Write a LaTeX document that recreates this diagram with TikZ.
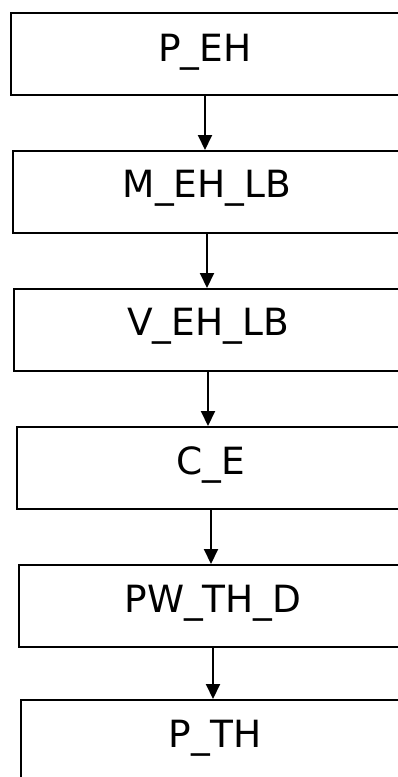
\documentclass[tikz,border=0pt]{standalone}
\usepackage{fontspec}
\setmainfont{DejaVu Sans}
\usetikzlibrary{arrows.meta}
\begin{document}
\begin{tikzpicture}[x=1pt,y=-1pt,
  box/.style={draw=black,line width=2.2pt,rectangle,minimum width=388pt,minimum height=82pt,inner sep=0pt,anchor=north},
  lbl/.style={anchor=base,font=\fontsize{37.5}{40}\selectfont,inner sep=0pt},
  conn/.style={line width=2pt,-{Triangle[length=15pt,width=14pt]}}]
\useasboundingbox (0,0) rectangle (398,777);
\node[box] (b1) at (205,12) {};
\node[box] (b2) at (207,150) {};
\node[box] (b3) at (208,288) {};
\node[box] (b4) at (211,426) {};
\node[box] (b5) at (213,564) {};
\node[box] (b6) at (215,699) {};
\node[lbl] (t1) at ([yshift=-49pt]b1.north) {P\_EH};
\node[lbl] (t2) at ([yshift=-47pt]b2.north) {M\_EH\_LB};
\node[lbl] (t3) at ([yshift=-47pt]b3.north) {V\_EH\_LB};
\node[lbl] (t4) at ([yshift=-48pt]b4.north) {C\_E};
\node[lbl] (t5) at ([yshift=-48pt]b5.north) {PW\_TH\_D};
\node[lbl] (t6) at ([yshift=-48pt]b6.north) {P\_TH};
\draw[conn] (b1.south) -- (b1.south |- b2.north);
\draw[conn] (b2.south) -- (b2.south |- b3.north);
\draw[conn] (b3.south) -- (b3.south |- b4.north);
\draw[conn] (b4.south) -- (b4.south |- b5.north);
\draw[conn] (b5.south) -- (b5.south |- b6.north);
\end{tikzpicture}
\end{document}
